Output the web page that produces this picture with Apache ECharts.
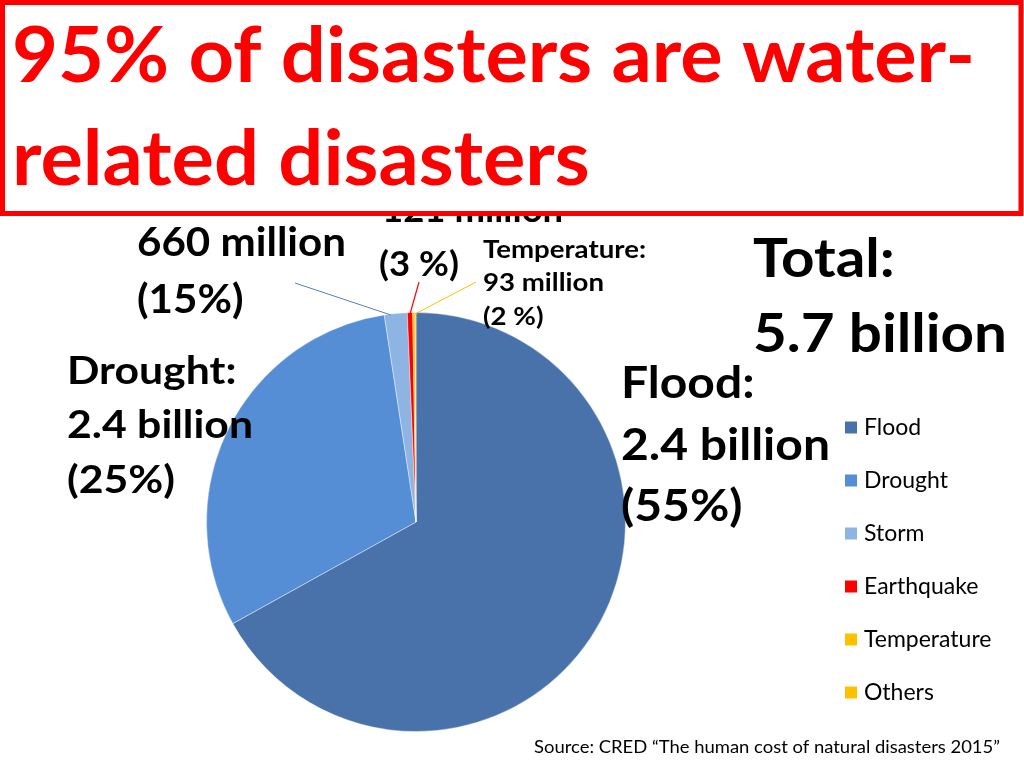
<!DOCTYPE html>
<html><head><meta charset="utf-8">
<script src="https://cdn.jsdelivr.net/npm/echarts@6/dist/echarts.min.js"></script>
<style>html,body{margin:0;padding:0;background:#fff}#c{width:1024px;height:768px}</style>
</head><body><div id="c"></div>
<script>
// ---- data ----
const categories = ['Flood', 'Drought', 'Storm', 'Earthquake', 'Temperature', 'Others'];
const shares = [66.94, 30.64, 1.76, 0.41, 0.18, 0.07];
const titleLines = ['95% of disasters are water-', 'related disasters'];
const floodLabel = ['Flood:', '2.4 billion', '(55%)'];
const droughtLabel = ['Drought:', '2.4 billion', '(25%)'];
const stormLabel = ['660 million', '(15%)'];
const quakeLabel = ['121 million', '(3 %)'];
const tempLabel = ['Temperature:', '93 million', '(2 %)'];
const totalLabel = ['Total:', '5.7 billion'];
const sourceText = 'Source: CRED \u201CThe human cost of natural disasters 2015\u201D';

// ---- styles ----
const colors = ['#4872A9', '#558ED5', '#8EB4E3', '#FF0000', '#FFC000', '#FFC000'];
const FF = 'Lato';

const mctx = document.createElement('canvas').getContext('2d');
function measure(text, font) { mctx.font = font; return mctx.measureText(text).width; }

function block(lines, x, ys, size, fitIdx, fitW, o) {
  o = o || {};
  const weight = o.weight || 'bold';
  const font = weight + ' ' + size + 'px ' + FF;
  const s = fitW / measure(lines[fitIdx], font);
  return lines.map((t, i) => ({
    type: 'text', x: Array.isArray(x) ? x[i] : x, y: ys[i], scaleX: s, scaleY: 1, z: o.z || 10,
    style: {
      text: t, font: font, fill: o.color || '#000',
      align: 'left', verticalAlign: 'middle', textAlign: 'left', textVerticalAlign: 'middle'
    }
  }));
}

const graphics = [];
// leader lines
graphics.push({ type: 'line', z: 5, shape: { x1: 295, y1: 283, x2: 391, y2: 315 }, style: { stroke: '#5B80B4', lineWidth: 1 } });
graphics.push({ type: 'line', z: 5, shape: { x1: 419, y1: 282, x2: 410, y2: 314 }, style: { stroke: '#FF0000', lineWidth: 1.2 } });
graphics.push({ type: 'line', z: 5, shape: { x1: 476, y1: 282, x2: 415, y2: 314 }, style: { stroke: '#FFC000', lineWidth: 1 } });
// annotation text
graphics.push(...block(quakeLabel, [382, 379], [211, 265], 34, 1, 80));
graphics.push(...block(stormLabel, 137, [243, 300], 40, 0, 209));
graphics.push(...block(tempLabel, 483, [250, 283, 317], 24, 0, 163));
graphics.push(...block(totalLabel, 753, [260, 335], 53, 1, 254));
graphics.push(...block(droughtLabel, 67, [371, 425, 480], 39, 1, 186));
graphics.push(...block(floodLabel, 621, [384, 446, 507], 44, 1, 209));
graphics.push(...block([sourceText], 534, [748], 17, 0, 466, { weight: 'normal' }));
// title box
graphics.push({ type: 'rect', z: 50, shape: { x: 2.5, y: 2.5, width: 1018.5, height: 211 }, style: { fill: '#fff', stroke: '#FF0000', lineWidth: 5 } });
graphics.push(...block(titleLines, 12, [57, 160], 76, 0, 963, { color: '#FF0000', z: 51 }));

const chart = echarts.init(document.getElementById('c'), null, { renderer: 'canvas' });
chart.setOption({
  animation: false,
  backgroundColor: '#fff',
  color: colors,
  legend: {
    orient: 'vertical', left: 843, top: 416, padding: 0,
    itemWidth: 14, itemHeight: 14, itemGap: 30, icon: 'rect',
    data: categories,
    textStyle: { fontFamily: FF, fontSize: 23, lineHeight: 22, color: '#000', padding: [0, 0, 0, 1] },
    selectedMode: false
  },
  series: [{
    type: 'pie',
    center: [416, 522],
    radius: 209.5,
    startAngle: 90,
    clockwise: true,
    label: { show: false },
    labelLine: { show: false },
    emphasis: { disabled: true },
    itemStyle: { borderColor: '#fff', borderWidth: 0.4 },
    data: categories.map((c, i) => ({ name: c, value: shares[i] }))
  }],
  graphic: { elements: graphics }
});
</script></body></html>
